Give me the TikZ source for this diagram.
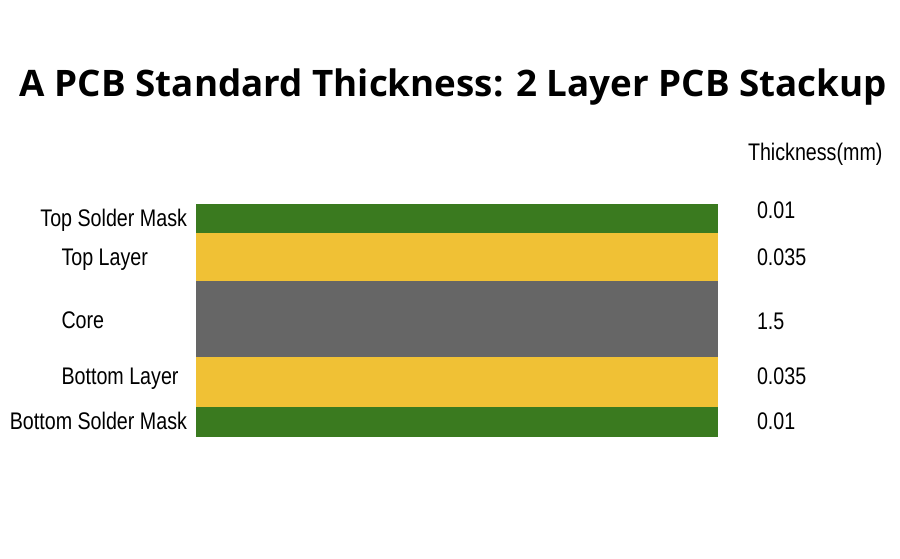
\documentclass[tikz,border=0pt]{standalone}
\usepackage{fontspec}
\usepackage{graphicx}
\setmainfont{Liberation Sans}
\newfontfamily\lblfont[FakeStretch=0.82]{Liberation Sans}
\newfontfamily\titlefont{Open Sans}
\definecolor{pcbgreen}{HTML}{3A7A1F}
\definecolor{pcbyellow}{HTML}{F0C135}
\definecolor{pcbgrey}{HTML}{666666}
\tikzset{
  layerbox/.style={draw=none, inner sep=0, outer sep=0, minimum width=522pt, anchor=north west},
  lbl/.style={inner sep=0, outer sep=0, font=\lblfont\fontsize{24}{26}\selectfont, text=black},
}
\begin{document}
\begin{tikzpicture}[x=1pt,y=-1pt]
\useasboundingbox[fill=white] (0,0) rectangle (900,558);
% title
\node[inner sep=0, anchor=base] (title) at (453.5,96)
  {\resizebox{867pt}{\height}{\titlefont\bfseries\fontsize{36.5}{40}\selectfont A PCB Standard Thickness: 2 Layer PCB Stackup}};
% layers
\node[layerbox, fill=pcbgreen,  minimum height=29pt] (tsm) at (196,204) {};
\node[layerbox, fill=pcbyellow, minimum height=47.7pt] (tl) at (196,233) {};
\node[layerbox, fill=pcbgrey,   minimum height=76.3pt] (core) at (196,280.7) {};
\node[layerbox, fill=pcbyellow, minimum height=49.7pt] (bl) at (196,357) {};
\node[layerbox, fill=pcbgreen,  minimum height=30pt] (bsm) at (196,406.7) {};
% left labels
\node[lbl, anchor=base east] (ltsm) at (187,226.5) {Top Solder Mask};
\node[lbl, anchor=base west] (ltl) at (61.5,265.5) {Top Layer};
\node[lbl, anchor=base west] (lcore) at (61.5,328.5) {Core};
\node[lbl, anchor=base west] (lbl) at (61.5,384) {Bottom Layer};
\node[lbl, anchor=base east] (lbsm) at (187,429) {Bottom Solder Mask};
% right values
\node[lbl, anchor=base west] (head) at (748,160) {Thickness(mm)};
\node[lbl, anchor=base west] (vtsm) at (757,218.3) {0.01};
\node[lbl, anchor=base west] (vtl) at (757,265) {0.035};
\node[lbl, anchor=base west] (vcore) at (757,329) {1.5};
\node[lbl, anchor=base west] (vbl) at (757,384) {0.035};
\node[lbl, anchor=base west] (vbsm) at (757,429) {0.01};
\end{tikzpicture}
\end{document}
